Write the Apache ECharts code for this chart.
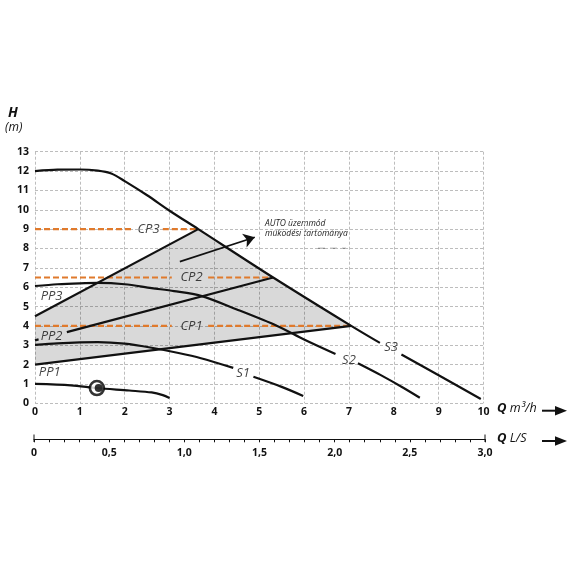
<!DOCTYPE html>
<html><head><meta charset="utf-8">
<script src="https://cdn.jsdelivr.net/npm/echarts@6/dist/echarts.min.js"></script>
<style>html,body{margin:0;padding:0;background:#fff}#c{width:570px;height:570px}</style>
</head><body><div id="c"></div>
<script>
// ---- data ----
const qTicks = [0,1,2,3,4,5,6,7,8,9,10];
const hTicks = [0,1,2,3,4,5,6,7,8,9,10,11,12,13];
const lsTicks = [0,0.5,1.0,1.5,2.0,2.5,3.0];
// max curve (PP3 top / S3), '-' = gap for label
const s3Q = [0,0.5,1.0,1.4,1.7,2.0,2.5,3.0,3.64,5.31,7.05,7.69,7.9,8.17,9.0,9.94];
const s3H = [12.0,12.07,12.08,12.02,11.87,11.48,10.75,9.95,9.0,6.5,4.0,3.12,'-',2.52,1.45,0.22];
const s2Q = [0,0.5,1.0,1.4,2.0,2.6,3.1,3.7,4.5,5.4,6.0,6.7,6.9,7.2,7.7,8.2,8.58];
const s2H = [6.06,6.15,6.2,6.22,6.15,5.95,5.8,5.55,4.85,4.0,3.3,2.55,'-',2.07,1.47,0.82,0.29];
const s1Q = [0,0.5,1.0,1.4,2.0,2.6,3.2,3.7,4.42,4.6,4.87,5.5,5.98];
const s1H = [3.02,3.1,3.15,3.16,3.08,2.87,2.6,2.33,1.83,'-',1.37,0.85,0.38];
const minQ = [0,0.8,1.38,2.1,2.6,2.85,3.0];
const minH = [1.0,0.93,0.79,0.66,0.56,0.42,0.27];
const pumpMark = [1.38,0.79];
const pp1Q = [0,7.05];         const pp1H = [2.0,4.0];
const pp2Q = [0,0.08,0.4,0.71,5.31]; const pp2H = [3.25,3.3,'-',3.68,6.5];
const pp3Q = [0,3.64];         const pp3H = [4.5,9.0];
const cp1Q = [0,3.05,3.4,3.86,7.05]; const cp1H = [4,4,'-',4,4];
const cp2Q = [0,3.05,3.4,3.86,5.31]; const cp2H = [6.5,6.5,'-',6.5,6.5];
const cp3Q = [0,2.19,2.5,2.85,3.64]; const cp3H = [9,9,'-',9,9];
const autoAreaQ = [0,7.05,5.31,3.64,0];
const autoAreaH = [2.0,4.0,6.5,9.0,4.5];
const arrowFrom = [3.23,7.32]; const arrowTo = [4.9,8.58];
const curveNames = ['PP3','PP2','PP1','S1','S2','S3','CP3','CP2','CP1'];
const curveNameQ = [0.37,0.37,0.33,4.64,7.0,7.94,2.53,3.49,3.49];
const curveNameH = [5.55,3.48,1.6,1.55,2.24,2.91,9.0,6.5,4.0];
const annotation = ['AUTO üzemmód','működési tartománya'];

const zip = (a,b)=>a.map((v,i)=>[v,b[i]]);
const ORANGE = '#e07a2c';
const FONT = 'Open Sans';

function blackLine(q,h,extra){
  return Object.assign({type:'line', data:zip(q,h), symbol:'none', connectNulls:false,
    lineStyle:{color:'#111', width:2.2}, silent:true, z:5, xAxisIndex:0, yAxisIndex:0}, extra||{});
}
function curve(q,h){ return blackLine(q,h,{smooth:0.3}); }
function cpLine(q,h){
  return {type:'line', data:zip(q,h), symbol:'none', connectNulls:false,
    lineStyle:{color:ORANGE, width:2.2, type:[6,3]}, silent:true, z:4, xAxisIndex:0, yAxisIndex:0};
}

const chart = echarts.init(document.getElementById('c'), null, {renderer:'canvas'});
const option = {
  animation:false,
  backgroundColor:'#fff',
  grid:[
    {left:35, right:86.5, top:151.7, bottom:166.7},
    {left:34, right:85, top:438.3, height:1}
  ],
  xAxis:[
    {type:'value', gridIndex:0, min:0, max:10, interval:1, position:'bottom',
     axisLine:{show:false}, axisTick:{show:false},
     axisLabel:{margin:3, fontSize:10.5, fontWeight:'bold', color:'#111', fontFamily:FONT},
     splitLine:{show:true, lineStyle:{color:'#bdbdbd', type:[3,2], width:1}}},
    {type:'value', gridIndex:1, min:0, max:3, interval:0.5, position:'bottom',
     axisLine:{show:true, lineStyle:{color:'#111', width:1}},
     axisTick:{show:true, length:3, lineStyle:{color:'#111', width:1}},
     minorTick:{show:true, splitNumber:5, length:3, lineStyle:{color:'#111', width:1}},
     axisLabel:{margin:8, fontSize:10.5, fontWeight:'bold', color:'#111', fontFamily:FONT,
       formatter:v=> v===0 ? '0' : v.toFixed(1).replace('.',',')},
     splitLine:{show:false}}
  ],
  yAxis:[
    {type:'value', gridIndex:0, min:0, max:13, interval:1,
     axisLine:{show:false}, axisTick:{show:false},
     axisLabel:{margin:6, fontSize:10.5, fontWeight:'bold', color:'#111', fontFamily:FONT},
     splitLine:{show:true, lineStyle:{color:'#bdbdbd', type:[3,2], width:1}}},
    {type:'value', gridIndex:1, min:0, max:1, show:false}
  ],
  graphic:[
    {type:'text', left:8, top:106, style:{text:'H', font:'italic bold 14px "Open Sans"', fill:'#111'}},
    {type:'text', left:5, top:122, style:{text:'(m)', font:'italic 12px "Open Sans"', fill:'#111'}},
    {type:'text', left:497, top:402, style:{text:'{q|Q} {u|m³/h}', rich:{
      q:{font:'italic bold 13px "Open Sans"', fill:'#111'}, u:{font:'italic 12.5px "Open Sans"', fill:'#111'}}}},
    {type:'text', left:497, top:432, style:{text:'{q|Q} {u|L/S}', rich:{
      q:{font:'italic bold 13px "Open Sans"', fill:'#111'}, u:{font:'italic 12.5px "Open Sans"', fill:'#111'}}}},
    {type:'line', shape:{x1:542,y1:410.7,x2:558,y2:410.7}, style:{stroke:'#111', lineWidth:2}},
    {type:'polygon', shape:{points:[[555,406],[567,410.7],[555,415.4]]}, style:{fill:'#111'}},
    {type:'line', shape:{x1:542,y1:441,x2:558,y2:441}, style:{stroke:'#111', lineWidth:2}},
    {type:'polygon', shape:{points:[[555,436.3],[567,441],[555,445.7]]}, style:{fill:'#111'}},
    {type:'line', shape:{x1:34,y1:434.5,x2:34,y2:442}, style:{stroke:'#111', lineWidth:1}},
    {type:'line', shape:{x1:485,y1:434.5,x2:485,y2:442}, style:{stroke:'#111', lineWidth:1}},
    {type:'text', left:265, top:219, style:{text:annotation[0], font:'italic 8.5px "Open Sans"', fill:'#222'}},
    {type:'text', left:265, top:229, style:{text:annotation[1], font:'italic 8.5px "Open Sans"', fill:'#222'}},
    {type:'line', shape:{x1:318,y1:248.3,x2:346,y2:248.3}, style:{stroke:'#888', lineWidth:1.2, lineDash:[7,5]}}
  ],
  series:[
    {type:'custom', xAxisIndex:0, yAxisIndex:0, silent:true, z:1, data:[[0,0]],
     renderItem:function(params, api){
       const pts = autoAreaQ.map((q,i)=>api.coord([q, autoAreaH[i]]));
       return {type:'polygon', shape:{points:pts}, style:{fill:'rgba(0,0,0,0.15)'}};
     }},
    cpLine(cp1Q,cp1H), cpLine(cp2Q,cp2H), cpLine(cp3Q,cp3H),
    curve(s3Q,s3H), curve(s2Q,s2H), curve(s1Q,s1H), curve(minQ,minH),
    blackLine(pp2Q,pp2H), blackLine(pp3Q,pp3H),
    blackLine(pp1Q,pp1H,{markLine:{silent:true, symbol:['none','arrow'], symbolSize:11,
      label:{show:false}, lineStyle:{color:'#111', width:1.6, type:'solid'},
      data:[[{coord:arrowFrom},{coord:arrowTo}]]}}),
    {type:'scatter', xAxisIndex:0, yAxisIndex:0, silent:true, z:6, data:[pumpMark], symbol:'circle', symbolSize:14,
     itemStyle:{color:'#fff', borderColor:'#000', borderWidth:2.6}},
    {type:'scatter', xAxisIndex:0, yAxisIndex:0, silent:true, z:7, data:[pumpMark], symbol:'circle', symbolSize:8,
     symbolOffset:[1.8,0], itemStyle:{color:'#000'}},
    {type:'scatter', xAxisIndex:0, yAxisIndex:0, silent:true, z:8, symbolSize:1,
     itemStyle:{color:'rgba(0,0,0,0)'},
     data:curveNames.map((n,i)=>({name:n, value:[curveNameQ[i], curveNameH[i]]})),
     label:{show:true, position:'inside', formatter:p=>p.name, fontFamily:FONT, fontStyle:'italic',
       fontSize:13, color:'#111'}}
  ]
};
chart.setOption(option);
</script></body></html>
